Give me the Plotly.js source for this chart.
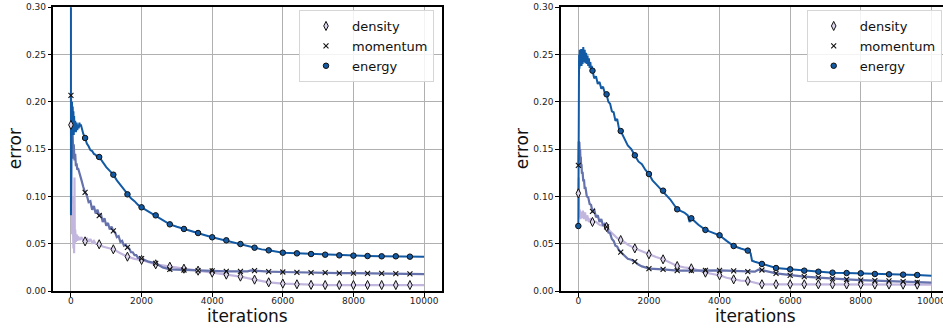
<!DOCTYPE html>
<html>
<head>
<meta charset="utf-8">
<script src="https://cdn.plot.ly/plotly-3.0.1.min.js"></script>
<style>
html, body { margin: 0; padding: 0; overflow: hidden; background: #fff; }
#chart { width: 960px; height: 330px; }
</style>
</head>
<body>
<div id="chart"></div>
<script>
// ---------- marker positions (every 400 iterations) ----------
const markIt = [0,400,800,1200,1600,2000,2400,2800,3200,3600,4000,4400,4800,5200,5600,6000,6400,6800,7200,7600,8000,8400,8800,9200,9600];

// ---------- LEFT panel: marker values ----------
const densityMarkL  = [0.1756,0.0525,0.0494,0.0441,0.0363,0.0328,0.0282,0.0257,0.0236,0.0215,0.0194,0.0173,0.0152,0.0120,0.0092,0.0078,0.0071,0.0065,0.0063,0.0063,0.0063,0.0063,0.0063,0.0063,0.0063];
const momentumMarkL = [0.2069,0.1043,0.0797,0.0635,0.0462,0.0342,0.0293,0.0229,0.0222,0.0215,0.0212,0.0208,0.0208,0.0215,0.0204,0.0201,0.0197,0.0194,0.0194,0.0190,0.0190,0.0187,0.0187,0.0183,0.0180];
const energyMarkL   = [0.3300,0.1618,0.1417,0.1230,0.1022,0.0885,0.0800,0.0705,0.0656,0.0613,0.0568,0.0536,0.0497,0.0458,0.0430,0.0405,0.0398,0.0391,0.0384,0.0377,0.0374,0.0370,0.0367,0.0367,0.0363];

// ---------- RIGHT panel: marker values ----------
const densityMarkR  = [0.1033,0.0730,0.0677,0.0539,0.0451,0.0388,0.0335,0.0264,0.0240,0.0194,0.0166,0.0123,0.0106,0.0071,0.0071,0.0071,0.0071,0.0070,0.0070,0.0069,0.0069,0.0068,0.0068,0.0067,0.0067];
const momentumMarkR = [0.1329,0.0843,0.0677,0.0412,0.0310,0.0236,0.0229,0.0215,0.0215,0.0219,0.0219,0.0212,0.0204,0.0222,0.0187,0.0166,0.0152,0.0141,0.0130,0.0123,0.0116,0.0109,0.0106,0.0099,0.0092];
const energyMarkR   = [0.0687,0.2330,0.2080,0.1692,0.1435,0.1237,0.1061,0.0864,0.0769,0.0646,0.0589,0.0476,0.0427,0.0286,0.0243,0.0229,0.0215,0.0204,0.0194,0.0190,0.0187,0.0180,0.0176,0.0173,0.0169];

// ---------- LEFT panel: error curves ----------
const energyItL = [0,0,10,20,30,40,50,60,70,80,
  90,100,120,140,160,180,200,220,240,260,
  280,300,320,350,400,450,500,550,600,650,
  700,750,800,900,1000,1100,1200,1300,1400,1500,
  1600,1700,1800,1900,2000,2200,2400,2600,2800,3000,
  3200,3400,3600,3800,4000,4200,4400,4600,4800,5000,
  5200,5400,5600,5800,6000,6400,6800,7200,7600,8000,
  8400,8800,9200,9600,10000];
const energyL = [0.33,0.080,0.210,0.170,0.200,0.165,0.195,0.170,0.190,0.165,
  0.185,0.170,0.180,0.168,0.178,0.170,0.176,0.172,0.178,0.174,
  0.176,0.172,0.170,0.166,0.162,0.156,0.153,0.149,0.148,0.145,
  0.144,0.141,0.1417,0.136,0.131,0.127,0.123,0.117,0.112,0.107,
  0.102,0.098,0.095,0.091,0.0885,0.084,0.080,0.075,0.0705,0.068,
  0.0656,0.063,0.0613,0.059,0.0568,0.055,0.0536,0.051,0.0497,0.048,
  0.0458,0.044,0.043,0.0415,0.0405,0.0398,0.0391,0.0384,0.0377,0.0374,
  0.0370,0.0367,0.0367,0.0363,0.0362];

const momentumItL = [0,10,20,30,40,50,60,70,80,100,
  120,140,160,180,200,250,300,350,400,450,
  500,550,600,650,700,750,800,850,900,950,
  1000,1050,1100,1150,1200,1250,1300,1350,1400,1450,
  1500,1550,1600,1650,1700,1750,1800,1850,1900,1950,
  2000,2200,2400,2600,2800,3000,3200,3600,4000,4400,
  4800,5000,5100,5200,5600,6000,6400,6800,7200,7600,
  8000,8400,8800,9200,9600,10000];
const momentumL = [0.207,0.150,0.195,0.140,0.175,0.150,0.165,0.140,0.155,0.138,
  0.145,0.132,0.135,0.128,0.130,0.122,0.117,0.110,0.104,0.101,
  0.094,0.095,0.086,0.090,0.082,0.086,0.0797,0.081,0.073,0.077,
  0.069,0.072,0.065,0.068,0.0635,0.062,0.057,0.058,0.052,0.053,
  0.048,0.049,0.0462,0.045,0.041,0.041,0.038,0.038,0.035,0.035,
  0.0342,0.031,0.0293,0.025,0.0229,0.0225,0.0222,0.0215,0.0212,0.0208,
  0.0208,0.0208,0.0218,0.0215,0.0204,0.0201,0.0197,0.0194,0.0194,0.0190,
  0.0190,0.0187,0.0187,0.0183,0.0180,0.0178];

const densityItL = [0,10,20,30,40,50,60,70,80,90,
  100,110,120,140,160,180,200,250,300,350,
  400,450,500,550,600,650,700,800,900,1000,
  1100,1200,1400,1600,1800,2000,2400,2800,3200,3600,
  4000,4400,4800,5200,5600,6000,6400,6800,7200,8000,
  9000,10000];
const densityL = [0.176,0.090,0.140,0.060,0.100,0.050,0.070,0.045,0.065,0.040,
  0.120,0.050,0.065,0.052,0.060,0.053,0.058,0.054,0.057,0.053,
  0.0525,0.056,0.052,0.055,0.051,0.053,0.050,0.0494,0.047,0.046,
  0.045,0.0441,0.040,0.0363,0.034,0.0328,0.0282,0.0257,0.0236,0.0215,
  0.0194,0.0173,0.0152,0.0120,0.0092,0.0078,0.0071,0.0065,0.0063,0.0063,
  0.0063,0.0063];

// ---------- RIGHT panel: error curves ----------
const energyItR = [0,10,20,30,40,50,60,70,80,90,
  100,120,140,160,180,200,220,240,260,280,
  300,320,340,360,380,400,450,500,550,600,
  650,700,750,800,850,900,950,1000,1050,1100,
  1150,1200,1300,1400,1500,1600,1700,1800,1900,2000,
  2100,2200,2300,2400,2600,2800,3000,3100,3150,3200,
  3400,3600,3800,4000,4200,4400,4600,4800,4880,4920,
  5000,5200,5400,5600,6000,6400,6800,7200,7600,8000,
  8400,8800,9200,9600,10000];
const energyR = [0.069,0.200,0.250,0.235,0.255,0.238,0.252,0.240,0.256,0.238,
  0.254,0.240,0.258,0.242,0.255,0.241,0.252,0.240,0.249,0.238,
  0.246,0.236,0.242,0.233,0.238,0.233,0.225,0.227,0.219,0.221,
  0.214,0.216,0.209,0.208,0.200,0.198,0.190,0.189,0.180,0.182,
  0.172,0.1692,0.162,0.154,0.150,0.1435,0.137,0.134,0.128,0.1237,
  0.117,0.113,0.109,0.1061,0.097,0.0864,0.083,0.080,0.073,0.0769,
  0.070,0.0646,0.062,0.0589,0.053,0.0476,0.045,0.0427,0.040,0.032,
  0.031,0.0286,0.026,0.0243,0.0229,0.0215,0.0204,0.0194,0.0190,0.0187,
  0.0180,0.0176,0.0173,0.0169,0.0162];

const momentumItR = [0,10,20,30,40,50,60,70,80,90,
  100,120,140,160,180,200,240,280,320,360,
  400,450,500,550,600,650,700,750,800,850,
  900,950,1000,1050,1100,1150,1200,1300,1400,1500,
  1600,1700,1800,1900,2000,2400,2800,3200,3600,4000,
  4400,4800,5000,5100,5200,5600,6000,6400,6800,7200,
  7600,8000,8400,8800,9200,9600,10000];
const momentumR = [0.133,0.158,0.150,0.157,0.145,0.150,0.138,0.142,0.130,0.134,
  0.124,0.126,0.116,0.118,0.108,0.110,0.100,0.099,0.092,0.091,
  0.0843,0.086,0.078,0.080,0.073,0.076,0.069,0.071,0.0677,0.062,
  0.061,0.055,0.053,0.048,0.047,0.043,0.0412,0.038,0.034,0.033,
  0.031,0.028,0.026,0.025,0.0236,0.0229,0.0215,0.0215,0.0219,0.0219,
  0.0212,0.0204,0.0205,0.0225,0.0222,0.0187,0.0166,0.0152,0.0141,0.0130,
  0.0123,0.0116,0.0109,0.0106,0.0099,0.0092,0.0088];

const densityItR = [0,10,20,30,40,60,80,100,130,160,
  190,220,250,300,350,400,500,600,700,800,
  900,1000,1100,1200,1300,1400,1500,1600,1800,2000,
  2200,2400,2600,2800,3000,3200,3400,3600,3800,4000,
  4200,4400,4600,4800,5000,5200,6000,7000,8000,9000,
  10000];
const densityR = [0.103,0.120,0.085,0.078,0.086,0.076,0.084,0.077,0.085,0.076,
  0.083,0.074,0.080,0.073,0.077,0.073,0.073,0.070,0.069,0.0677,
  0.063,0.059,0.056,0.0539,0.052,0.049,0.047,0.0451,0.042,0.0388,
  0.036,0.0335,0.030,0.0264,0.025,0.024,0.022,0.0194,0.018,0.0166,
  0.014,0.0123,0.011,0.0106,0.009,0.0071,0.0071,0.0069,0.0068,0.0067,
  0.0067];

const yTicks = [0, 0.05, 0.10, 0.15, 0.20, 0.25, 0.30];
const yTickText = ['0.00','0.05','0.10','0.15','0.20','0.25','0.30'];
const xTicks = [0, 2000, 4000, 6000, 8000, 10000];
const xTickText = ['0','2000','4000','6000','8000','10000'];
const xTitle = 'iterations';
const yTitle = 'error';

// ---------- styling ----------
const C_DENS = '#c2b6de';
const C_MOM  = '#6672ab';
const C_EN   = '#135aa5';
const FONT = 'DejaVu Sans, sans-serif';

function line(x, y, color, w, xa, ya) {
  return {x: x, y: y, type: 'scatter', mode: 'lines', xaxis: xa, yaxis: ya,
          line: {color: color, width: w}, showlegend: false, hoverinfo: 'skip'};
}
function marks(y, name, kind, xa, ya, leg) {
  let marker;
  if (kind === 'd') marker = {symbol: 'diamond-tall', size: 6.5, color: '#ddd6ee', line: {color: '#111', width: 1}};
  else if (kind === 'x') marker = {symbol: 'x-thin', size: 5, color: '#111', line: {color: '#111', width: 1.1}};
  else marker = {symbol: 'circle', size: 5.5, color: C_EN, line: {color: '#111', width: 1}};
  return {x: markIt, y: y, type: 'scatter', mode: 'markers', name: name, xaxis: xa, yaxis: ya,
          marker: marker, legend: leg, showlegend: true};
}

const traces = [
  line(densityItL, densityL, C_DENS, 2.2, 'x', 'y'),
  line(momentumItL, momentumL, C_MOM, 2.2, 'x', 'y'),
  line(energyItL, energyL, C_EN, 2.0, 'x', 'y'),
  marks(densityMarkL, 'density', 'd', 'x', 'y', 'legend'),
  marks(momentumMarkL, 'momentum', 'x', 'x', 'y', 'legend'),
  marks(energyMarkL, 'energy', 'o', 'x', 'y', 'legend'),
  line(densityItR, densityR, C_DENS, 2.2, 'x2', 'y2'),
  line(momentumItR, momentumR, C_MOM, 2.2, 'x2', 'y2'),
  line(energyItR, energyR, C_EN, 2.0, 'x2', 'y2'),
  marks(densityMarkR, 'density', 'd', 'x2', 'y2', 'legend2'),
  marks(momentumMarkR, 'momentum', 'x', 'x2', 'y2', 'legend2'),
  marks(energyMarkR, 'energy', 'o', 'x2', 'y2', 'legend2')
];

const W = 960, H = 330;
const yTop = 7.3, yBot = 291;
function xaxis(domain) {
  return {domain: domain, range: [-500, 10500], tickvals: xTicks, ticktext: xTickText,
    showgrid: true, gridcolor: '#b0b0b0', gridwidth: 1, zeroline: false,
    showline: true, mirror: true, linecolor: '#000', linewidth: 2,
    ticks: 'outside', ticklen: 3.5, tickwidth: 1, tickcolor: '#000', ticklabelstandoff: -3,
    tickfont: {family: FONT, size: 9, color: '#222'}, automargin: false};
}
function yaxis(anchor) {
  return {domain: [1 - yBot/H, 1 - yTop/H], range: [0, 0.3], anchor: anchor,
    tickvals: yTicks, ticktext: yTickText,
    showgrid: true, gridcolor: '#b0b0b0', gridwidth: 1, zeroline: false,
    showline: true, mirror: true, linecolor: '#000', linewidth: 2,
    ticks: 'outside', ticklen: 3.5, tickwidth: 1, tickcolor: '#000',
    tickfont: {family: FONT, size: 9, color: '#222'}, automargin: false};
}
function legend(xRight) {
  return {x: xRight / W, xanchor: 'right', y: 1 - 10/H, yanchor: 'top',
    bgcolor: 'rgba(255,255,255,0.85)', bordercolor: '#d6d6d6', borderwidth: 1,
    font: {family: FONT, size: 13, color: '#111'}, itemwidth: 42, tracegroupgap: 0};
}
const titleFont = {family: FONT, size: 17, color: '#111'};
function xTitleAnn(cx) {
  return {text: xTitle, xref: 'paper', yref: 'paper', x: cx / W, y: 1 - 315.5/H,
    xanchor: 'center', yanchor: 'middle', showarrow: false, font: titleFont};
}
function yTitleAnn(cx) {
  return {text: yTitle, xref: 'paper', yref: 'paper', x: cx / W, y: 1 - ((yTop + yBot)/2)/H,
    xanchor: 'center', yanchor: 'middle', textangle: -90, showarrow: false, font: titleFont};
}

const layout = {
  width: W, height: H,
  margin: {l: 0, r: 0, t: 0, b: 0},
  paper_bgcolor: '#fff', plot_bgcolor: '#fff',
  font: {family: FONT},
  xaxis: Object.assign(xaxis([53.3/W, 441.7/W]), {anchor: 'y'}),
  yaxis: yaxis('x'),
  xaxis2: Object.assign(xaxis([560.7/W, 949/W]), {anchor: 'y2'}),
  yaxis2: yaxis('x2'),
  legend: legend(434),
  legend2: legend(941.7),
  annotations: [xTitleAnn(247.5), yTitleAnn(15), xTitleAnn(755), yTitleAnn(522)]
};

Plotly.newPlot('chart', traces, layout, {displayModeBar: false, staticPlot: true});
</script>
</body>
</html>
